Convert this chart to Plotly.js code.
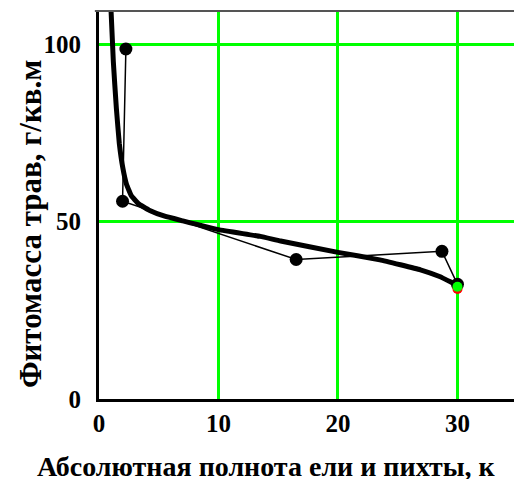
<!DOCTYPE html>
<html>
<head>
<meta charset="utf-8">
<script src="https://cdn.plot.ly/plotly-3.0.1.min.js"></script>
<style>html,body{margin:0;padding:0;background:#fff;}#chart{width:514px;height:479px;}</style>
</head>
<body>
<div id="chart"></div>
<script>
// Fitted (thick) curve
const fitX = [1.0, 1.2, 1.45, 1.7, 2.0, 2.3, 2.7, 3.3, 4.2, 5.5, 7.0, 10.0, 13.5, 15.2, 20.0, 23.5, 26.9, 28.5, 30.0];
const fitY = [110, 95, 82, 72, 65, 60.5, 57.3, 55.0, 53.2, 51.5, 50.2, 47.7, 45.8, 44.5, 41.3, 39.2, 36.4, 34.5, 32.0];
// Observed points (thin line with markers)
const obsX = [2.25, 1.97, 16.5, 28.7, 30.0];
const obsY = [98.6, 55.7, 39.3, 41.6, 32.3];
// Extra highlighted points at the end
const redX = [30.0];
const redY = [31.0];
const greenX = [30.0];
const greenY = [31.6];
// Ticks and titles
const xTicks = [0, 10, 20, 30];
const yTicks = [0, 50, 100];
const xTitle = "Абсолютная полнота ели и пихты, к";
const yTitle = "Фитомасса трав, г/кв.м";

const tickFont = {family: "Liberation Serif", size: 25, color: '#000', weight: 'bold'};
const xTitleFont = {family: "Liberation Serif", size: 28, color: '#000', weight: 'bold'};
const yTitleFont = {family: "Liberation Serif", size: 31, color: '#000', weight: 'bold'};

const traces = [
  {x: obsX, y: obsY, mode: 'lines+markers', line: {color: '#000', width: 1.5},
   marker: {color: '#000', size: 13}, hoverinfo: 'skip'},
  {x: fitX, y: fitY, mode: 'lines', line: {color: '#000', width: 5, shape: 'spline', smoothing: 0.3}, hoverinfo: 'skip'},
  {x: redX, y: redY, mode: 'markers', marker: {color: '#ff0000', size: 10}, hoverinfo: 'skip'},
  {x: greenX, y: greenY, mode: 'markers', marker: {color: '#00ff00', size: 10}, hoverinfo: 'skip'}
];

const layout = {
  width: 514, height: 479,
  margin: {l: 99, r: 0, t: 11, b: 80},
  paper_bgcolor: '#fff', plot_bgcolor: '#fff',
  showlegend: false,
  xaxis: {
    range: [0, 34.73], tickvals: xTicks, ticktext: xTicks.map(String),
    showgrid: true, gridcolor: '#00ff00', gridwidth: 3, zeroline: false,
    showline: true, linecolor: '#000', linewidth: 3, ticks: '',
    ticklabelstandoff: 0, tickfont: tickFont, fixedrange: true
  },
  yaxis: {
    range: [0, 109.3], tickvals: yTicks, ticktext: yTicks.map(String),
    showgrid: true, gridcolor: '#00ff00', gridwidth: 3, zeroline: false,
    showline: true, linecolor: '#000', linewidth: 3, ticks: '',
    ticklabelstandoff: 10, tickfont: tickFont, fixedrange: true
  },
  shapes: [
    {type: 'line', xref: 'paper', yref: 'paper', x0: -0.01, x1: 1, y0: 1, y1: 1,
     line: {color: '#555', width: 2}}
  ],
  annotations: [
    {text: xTitle, xref: 'paper', yref: 'paper', x: -0.154, y: -0.173,
     xanchor: 'left', yanchor: 'middle', showarrow: false, font: xTitleFont},
    {text: yTitle, xref: 'paper', yref: 'paper', x: -0.166, y: 0.451,
     xanchor: 'center', yanchor: 'middle', textangle: -90, showarrow: false, font: yTitleFont}
  ]
};

Plotly.newPlot('chart', traces, layout, {staticPlot: true, displayModeBar: false});
</script>
</body>
</html>
